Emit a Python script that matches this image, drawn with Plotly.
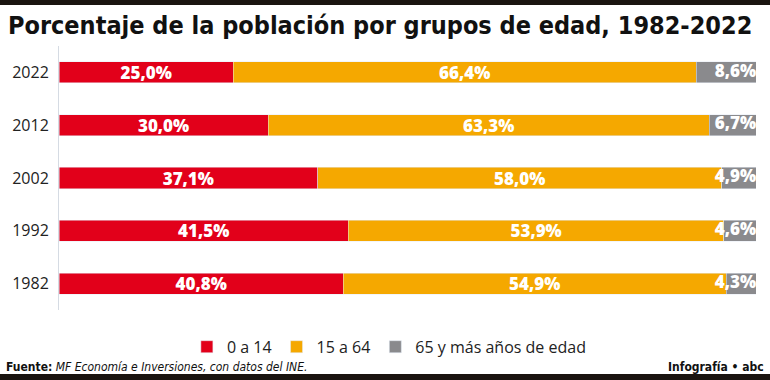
import plotly.graph_objects as go

years = ["1982", "1992", "2002", "2012", "2022"]
g0_14 = [40.8, 41.5, 37.1, 30.0, 25.0]
g15_64 = [54.9, 53.9, 58.0, 63.3, 66.4]
g65 = [4.3, 4.6, 4.9, 6.7, 8.6]
series_names = ["0 a 14", "15 a 64", "65 y más años de edad"]
colors = ["#e2001a", "#f5a800", "#8a8a8d"]

cond = "DejaVu Sans Condensed, Liberation Sans Narrow, Roboto, sans-serif"
lab_font = dict(family="Open Sans", size=17, color="white", weight=800)

fig = go.Figure()
fig.add_bar(y=years, x=g0_14, orientation="h", name=series_names[0], marker_color=colors[0],
            texttemplate="%{x:.1f}%", textposition="inside", insidetextanchor="middle",
            textfont=lab_font, constraintext="none", width=0.4)
fig.add_bar(y=years, x=g15_64, orientation="h", name=series_names[1], marker_color=colors[1],
            texttemplate="%{x:.1f}%", textposition="inside", insidetextanchor="middle",
            textfont=lab_font, constraintext="none", width=0.4)
fig.add_bar(y=years, x=g65, orientation="h", name=series_names[2], marker_color=colors[2],
            textposition="none", width=0.4)
totals = [a + b + c for a, b, c in zip(g0_14, g15_64, g65)]
fig.add_scatter(y=years, x=totals, mode="text", text=[f"{v:.1f}%".replace(".", ",") for v in g65],
                textposition="middle left", textfont=lab_font, showlegend=False, hoverinfo="skip")

fig.update_layout(
    width=770, height=380,
    barmode="stack",
    separators=",.",
    plot_bgcolor="white", paper_bgcolor="white",
    margin=dict(l=59, r=14, t=46, b=70),
    xaxis=dict(range=[0, 100], visible=False),
    yaxis=dict(showline=True, linecolor="#d5dbe3", linewidth=1, ticks="", ticklen=0,
               ticklabelstandoff=6,
               tickfont=dict(family="Open Sans", size=16, color="#222"), showgrid=False),
    legend=dict(orientation="h", x=0.474, xanchor="center", y=-0.075, yanchor="top",
                font=dict(family="Open Sans", size=16, color="#222"), traceorder="normal"),
    font=dict(family="Open Sans"),
)
fig.add_annotation(text="<b>Porcentaje de la población por grupos de edad, 1982-2022</b>",
                   xref="paper", yref="paper", x=-53/697, y=1.0, xanchor="left", yanchor="bottom",
                   yshift=4, showarrow=False,
                   font=dict(family=cond, size=25, color="#111"))
fig.add_annotation(text="<b>Fuente:</b> <i>MF Economía e Inversiones, con datos del INE.</i>",
                   xref="paper", yref="paper", x=-55/697, y=-57/264, xanchor="left", yanchor="middle",
                   showarrow=False, font=dict(family=cond, size=12, color="#111"))
fig.add_annotation(text="<b>Infografía • abc</b>",
                   xref="paper", yref="paper", x=1+10/697, y=-57/264, xanchor="right", yanchor="middle",
                   showarrow=False, font=dict(family=cond, size=12, color="#111"))
fig.add_shape(type="rect", xref="paper", yref="paper", x0=-59/697, x1=1+14/697,
              y0=1+41/264, y1=1+46/264, fillcolor="#1a1410", line_width=0)
fig.add_shape(type="rect", xref="paper", yref="paper", x0=-59/697, x1=1+14/697,
              y0=-70/264, y1=-64/264, fillcolor="#1a1410", line_width=0)

fig.write_html("out.html", config={"displayModeBar": False},
               post_script="document.body.style.margin='0';document.body.style.overflow='hidden';")
